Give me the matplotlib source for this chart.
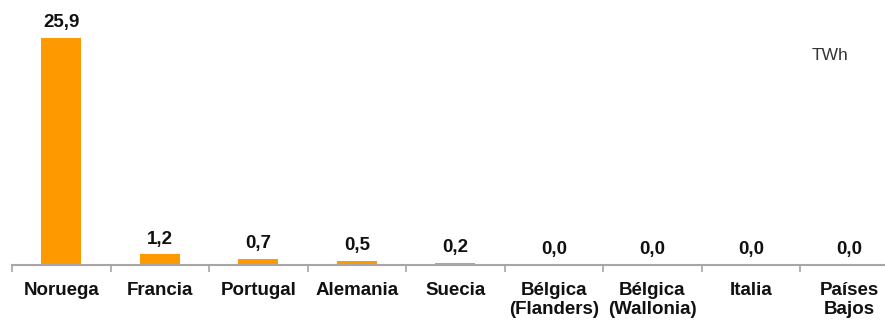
import matplotlib.pyplot as plt
import numpy as np

paises = ["Noruega", "Francia", "Portugal", "Alemania", "Suecia",
          "Bélgica\n(Flanders)", "Bélgica\n(Wallonia)", "Italia", "Países\nBajos"]
twh = [25.9, 1.2, 0.7, 0.5, 0.2, 0.0, 0.0, 0.0, 0.0]
etiquetas = ["25,9", "1,2", "0,7", "0,5", "0,2", "0,0", "0,0", "0,0", "0,0"]

plt.rcParams['font.family'] = ['Liberation Sans', 'DejaVu Sans']

fig = plt.figure(figsize=(8.85, 3.22), dpi=100)
ax = fig.add_axes([12/885, 57/322, 886.5/885, 265/322])

x = np.arange(len(paises))
ax.bar(x, twh, width=0.41, color='#FF9900')

for xi, v, txt in zip(x, twh, etiquetas):
    ax.annotate(txt, (xi, v), xytext=(0, 5), textcoords='offset points',
                ha='center', va='bottom', fontsize=13.5, fontweight='bold',
                color='#111111')

ax.set_xlim(-0.5, len(paises) - 0.5)
ax.set_ylim(0, 30.25)

# category labels centred, tick marks between categories
ax.set_xticks(x)
ax.set_xticklabels(paises, fontsize=13.5, fontweight='bold', color='#111111',
                   linespacing=1.15)
ax.tick_params(axis='x', which='major', length=0, pad=12)
ax.set_xticks(np.arange(len(paises) + 1) - 0.5, minor=True)
ax.tick_params(axis='x', which='minor', length=5, width=1.2, color='#A6A6A6')
ax.set_yticks([])

for s in ['top', 'right', 'left']:
    ax.spines[s].set_visible(False)
ax.spines['bottom'].set_color('#A6A6A6')
ax.spines['bottom'].set_linewidth(1.5)

fig.text(812/885, 1 - 55/322, "TWh", fontsize=12.5, color='#333333',
         ha='left', va='center')

fig.savefig("out.png", dpi=100)
